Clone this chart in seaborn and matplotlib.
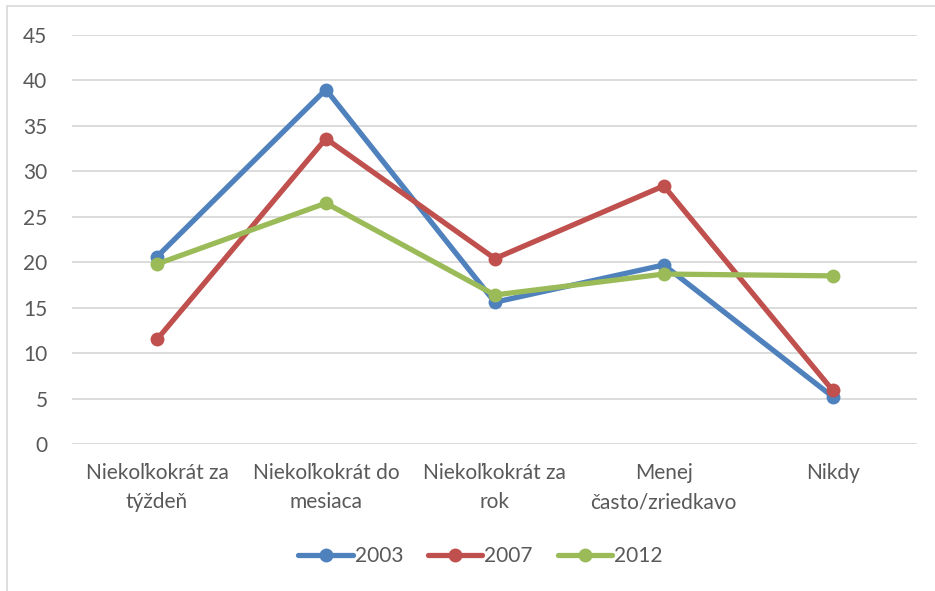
import pandas as pd
import matplotlib.pyplot as plt
import seaborn as sns
from matplotlib.lines import Line2D

# Kategórie a hodnoty (odčítané z grafu)
kategorie = ['Niekoľkokrát za\ntýždeň', 'Niekoľkokrát do\nmesiaca', 'Niekoľkokrát za\nrok',
             'Menej\nčasto/zriedkavo', 'Nikdy']
roky = ['2003', '2007', '2012']
hodnoty_2003 = [20.6, 39.0, 15.6, 19.7, 5.2]
hodnoty_2007 = [11.5, 33.6, 20.4, 28.4, 5.9]
hodnoty_2012 = [19.8, 26.5, 16.4, 18.7, 18.5]
farby = ['#4F81BD', '#C0504D', '#9BBB59']

df = pd.DataFrame({
    'kategoria': kategorie * 3,
    'rok': [r for r in roky for _ in kategorie],
    'hodnota': hodnoty_2003 + hodnoty_2007 + hodnoty_2012,
})

sns.set_style('white')
plt.rcParams['font.family'] = ['Lato', 'DejaVu Sans']
sivy = '#595959'
velkost = 15

fig = plt.figure(figsize=(9.35, 5.91), dpi=100)
ax = fig.add_axes([0.0775, 0.2487, 0.9035, 0.6921])

sns.lineplot(data=df, x='kategoria', y='hodnota', hue='rok', palette=farby,
             marker='o', markersize=10, markeredgewidth=0, linewidth=3.8,
             sort=False, ax=ax, legend=False)

ax.set_xlim(-0.5, 4.5)
ax.set_ylim(0, 45)
ax.set_yticks(range(0, 46, 5))
ax.yaxis.grid(True, color='#D9D9D9', linewidth=1.3)
ax.set_axisbelow(True)
for s in ax.spines.values():
    s.set_visible(False)
ax.set_xlabel('')
ax.set_ylabel('')
ax.tick_params(axis='both', length=0, labelsize=velkost, colors=sivy)
ax.tick_params(axis='x', pad=14)
ax.tick_params(axis='y', pad=18)
for t in ax.get_xticklabels():
    t.set_linespacing(1.55)

# Legenda
handles = [Line2D([0], [0], color=c, linewidth=3.8, marker='o', markersize=10,
                  markeredgewidth=0) for c in farby]
fig.legend(handles, roky, loc='center', bbox_to_anchor=(0.514, 0.059), ncol=3,
           frameon=False, fontsize=velkost, labelcolor=sivy, handlelength=2.6,
           handletextpad=0.1, columnspacing=1.2)

# Rámček grafu
fig.add_artist(Line2D([7 / 935, 7 / 935], [0, 1 - 6 / 591], color='#D9D9D9', linewidth=1.2))
fig.add_artist(Line2D([7 / 935, 1], [1 - 6 / 591, 1 - 6 / 591], color='#D9D9D9', linewidth=1.2))

fig.savefig('out.png', dpi=100)
